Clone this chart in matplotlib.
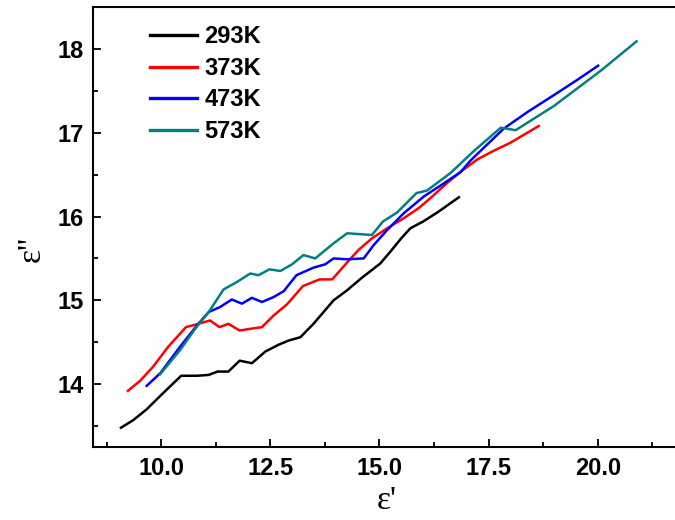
import matplotlib
matplotlib.use("Agg")
import matplotlib.pyplot as plt
from matplotlib.ticker import MultipleLocator

# dielectric data, eps' vs eps'' at four temperatures
x_293 = [9.08, 9.36, 9.67, 10.02, 10.46, 10.82, 11.09, 11.29, 11.54, 11.80, 12.08, 12.39,
         12.69, 12.92, 13.19, 13.49, 13.95, 14.26, 14.60, 15.02, 15.25, 15.50, 15.71, 16.00,
         16.36, 16.82]
y_293 = [13.48, 13.57, 13.70, 13.88, 14.10, 14.10, 14.11, 14.15, 14.15, 14.28, 14.25, 14.39,
         14.47, 14.52, 14.56, 14.72, 15.00, 15.12, 15.27, 15.44, 15.58, 15.74, 15.86, 15.94,
         16.06, 16.23]

x_373 = [9.24, 9.52, 9.82, 10.17, 10.57, 10.86, 11.12, 11.34, 11.54, 11.80, 12.04, 12.31,
         12.58, 12.88, 13.25, 13.63, 13.92, 14.24, 14.52, 14.83, 15.18, 15.56, 15.90, 16.17,
         16.55, 16.85, 17.24, 17.60, 18.00, 18.65]
y_373 = [13.92, 14.04, 14.21, 14.45, 14.68, 14.72, 14.76, 14.68, 14.72, 14.64, 14.66, 14.68,
         14.82, 14.95, 15.17, 15.25, 15.25, 15.44, 15.60, 15.74, 15.86, 15.98, 16.10, 16.22,
         16.40, 16.53, 16.68, 16.78, 16.88, 17.08]

x_473 = [9.67, 9.98, 10.44, 10.82, 11.09, 11.35, 11.62, 11.85, 12.08, 12.31, 12.58, 12.81,
         13.10, 13.49, 13.76, 13.95, 14.26, 14.64, 14.87, 15.18, 15.56, 16.02, 16.40, 16.86,
         17.09, 17.85, 18.40, 19.00, 19.53, 20.01]
y_473 = [13.98, 14.13, 14.45, 14.70, 14.86, 14.92, 15.01, 14.96, 15.03, 14.98, 15.04, 15.11,
         15.30, 15.39, 15.43, 15.50, 15.49, 15.50, 15.66, 15.84, 16.04, 16.24, 16.37, 16.53,
         16.67, 17.05, 17.25, 17.45, 17.63, 17.80]

x_573 = [9.98, 10.44, 10.78, 11.09, 11.43, 11.74, 12.04, 12.23, 12.48, 12.73, 13.00, 13.26,
         13.53, 13.95, 14.26, 14.83, 15.08, 15.41, 15.85, 16.09, 16.63, 17.16, 17.78, 18.12,
         19.00, 20.07, 20.89]
y_573 = [14.12, 14.41, 14.66, 14.86, 15.13, 15.22, 15.32, 15.30, 15.37, 15.35, 15.43, 15.54,
         15.50, 15.68, 15.80, 15.78, 15.94, 16.05, 16.28, 16.31, 16.52, 16.78, 17.06, 17.03,
         17.32, 17.74, 18.09]

series = [
    ("293K", x_293, y_293, "black"),
    ("373K", x_373, y_373, "#ff0000"),
    ("473K", x_473, y_473, "#0000ff"),
    ("573K", x_573, y_573, "#008080"),
]

fig = plt.figure(figsize=(6.75, 5.2), dpi=100)
ax = fig.add_axes([93 / 675, 1 - 447 / 520, 1 - 93 / 675, (447 - 7) / 520])

for label, xs, ys, color in series:
    ax.plot(xs, ys, color=color, lw=1.8, label=label)

ax.set_xlim(8.44, 21.77)
ax.set_ylim(13.25, 18.5)

ax.xaxis.set_major_locator(MultipleLocator(2.5))
ax.xaxis.set_minor_locator(MultipleLocator(1.25))
ax.yaxis.set_major_locator(MultipleLocator(1))
ax.yaxis.set_minor_locator(MultipleLocator(0.5))
ax.xaxis.set_major_formatter(plt.FormatStrFormatter("%.1f"))
ax.yaxis.set_major_formatter(plt.FormatStrFormatter("%d"))

ax.tick_params(which="both", direction="in", width=1.3, top=False, right=False)
ax.tick_params(which="major", length=6, pad=7)
ax.tick_params(which="minor", length=3.5)
for lab in ax.get_xticklabels() + ax.get_yticklabels():
    lab.set_fontfamily("Liberation Sans")
    lab.set_fontweight("bold")
    lab.set_fontsize(17)

for side in ["left", "bottom", "top"]:
    ax.spines[side].set_linewidth(1.5)
ax.spines["right"].set_visible(False)

ax.set_xlabel("ε'", fontfamily="Liberation Serif", fontsize=24)
ax.set_ylabel("ε''", fontfamily="Liberation Serif", fontsize=24)
ax.xaxis.set_label_coords(0.505, -0.088)
ax.yaxis.set_label_coords(-0.08, 0.45)

leg = ax.legend(loc="upper left", bbox_to_anchor=(0.098, 0.958), frameon=False,
                handlelength=2.0, handletextpad=0.3, labelspacing=0.36,
                borderpad=0, borderaxespad=0,
                prop={"family": "Liberation Sans", "weight": "bold", "size": 17})
for line in leg.get_lines():
    line.set_linewidth(2.4)

fig.savefig("out.png", dpi=100)
